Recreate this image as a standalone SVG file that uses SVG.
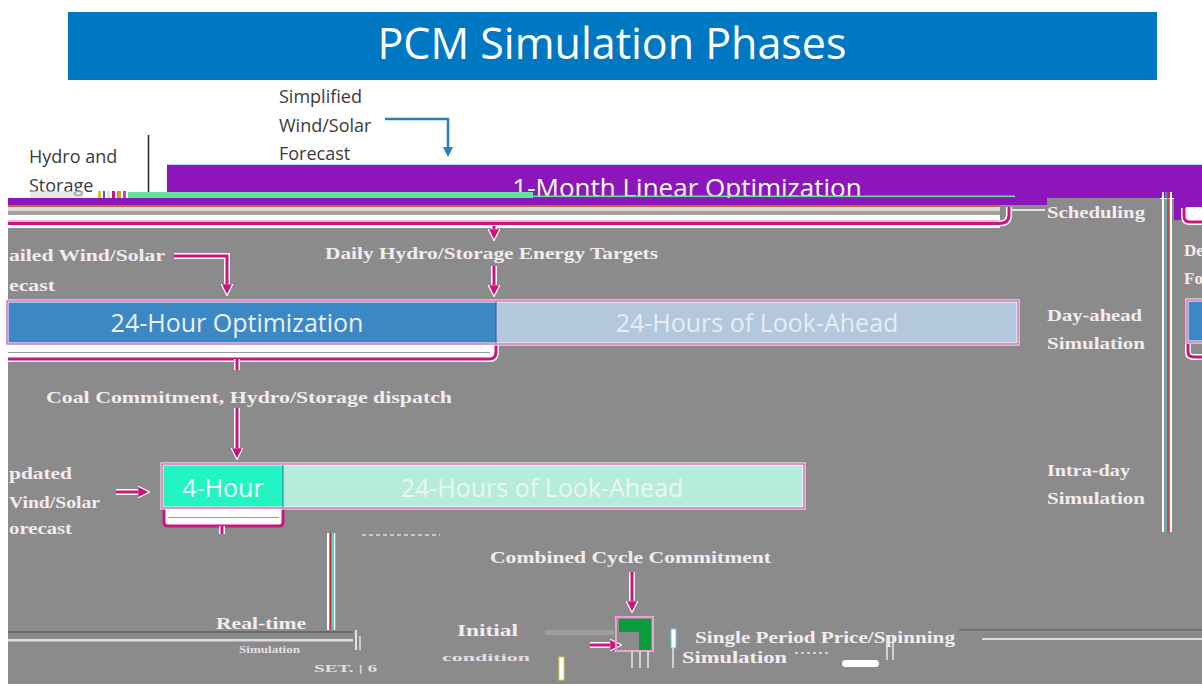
<svg xmlns="http://www.w3.org/2000/svg" width="1202" height="687" viewBox="0 0 1202 687">
<defs>
<style>
.g{font-family:"Liberation Serif",serif;font-weight:bold;fill:#f3ebf0;font-size:17px}
.gs{font-family:"Liberation Serif",serif;font-weight:bold;fill:#e6dde4;font-size:10px}
.s{font-family:"Open Sans","Liberation Sans",sans-serif}
.dk{fill:#3a3a3a;font-size:18px}
.mag{fill:none;stroke:#c8167f;stroke-width:3}
.wo{fill:none;stroke:#ffffff;stroke-width:6}
.bx{font-size:25px;text-anchor:middle}
</style>
<marker id="am" viewBox="0 0 10 10" refX="7" refY="5" markerWidth="4" markerHeight="4" orient="auto" markerUnits="strokeWidth">
<path d="M0,0 L10,5 L0,10 z" fill="#c8167f" stroke="#ffffff" stroke-width="1"/>
</marker>
<marker id="ab" viewBox="0 0 10 10" refX="7" refY="5" markerWidth="4" markerHeight="4" orient="auto" markerUnits="strokeWidth">
<path d="M0,0 L10,5 L0,10 z" fill="#2a7fc0"/>
</marker>
</defs>
<rect x="0" y="0" width="1202" height="687" fill="#ffffff"/>
<g id="title">
<rect x="68" y="12" width="1089" height="68" fill="#0077c1"/>
<text x="612" y="59" class="s" font-size="43" fill="#ffffff" text-anchor="middle">PCM Simulation Phases</text>
</g>
<g id="top-labels">
<text class="s dk" x="279" y="103">Simplified</text>
<text class="s dk" x="279" y="132">Wind/Solar</text>
<text class="s dk" x="279" y="160">Forecast</text>
<text class="s dk" x="29" y="163">Hydro and</text>
<text class="s dk" x="29" y="192">Storage</text>
<line x1="148.5" y1="135" x2="148.5" y2="192" stroke="#222" stroke-width="1.5"/>
</g>
<rect id="background" x="8" y="199" width="1194" height="485" fill="#8b8b8b"/>
<rect x="1045" y="192" width="115" height="30" fill="#8b8b8b"/>
<g id="month">
<rect x="167" y="164" width="1035" height="34" fill="#8c16b9"/>
<line x1="167" y1="164.5" x2="1202" y2="164.5" stroke="#b8d8f0" stroke-width="1"/>
<rect x="1174" y="198" width="28" height="22" fill="#8c16b9"/>
<rect x="1010" y="192" width="35" height="13" fill="#8c16b9"/>
<text x="687" y="197" class="s" font-size="26" fill="#ffffff" text-anchor="middle">1-Month Linear Optimization</text>
<rect x="533" y="195.5" width="482" height="1.6" fill="#5fe0a0"/>
<rect x="128" y="192" width="405" height="6" fill="#62e3a0"/>
<rect x="30" y="191" width="53" height="7" fill="#d8d8d8" opacity="0.6"/>
<rect x="98" y="191" width="3" height="7" fill="#d8c030"/>
<rect x="103" y="191" width="2" height="7" fill="#4060d0"/>
<rect x="107" y="191" width="3" height="7" fill="#e0e0e0"/>
<rect x="112" y="191" width="3" height="7" fill="#c8167f"/>
<rect x="117" y="191" width="4" height="7" fill="#d89a30"/>
<rect x="123" y="191" width="3" height="7" fill="#a050c0"/>
<rect x="8" y="198" width="1039" height="7" fill="#8c16b9"/>
</g>
<g id="band">
<rect x="8" y="205" width="992" height="2" fill="#c86a30"/>
<rect x="8" y="207" width="992" height="4" fill="#d9d9d9"/>
<rect x="8" y="211" width="992" height="4" fill="#a0a0a0"/>
<rect x="8" y="215" width="992" height="5" fill="#ffffff"/>
<rect x="8" y="220" width="992" height="2" fill="#f0b8d8"/>
<rect x="8" y="222" width="992" height="3" fill="#c8167f"/>
<rect x="8" y="225" width="992" height="3" fill="#ffffff"/>
</g>
<g id="connectors">
<path d="M385,119 H448 V154" fill="none" stroke="#2a7fc0" stroke-width="2.5" marker-end="url(#ab)"/>
<path class="wo" d="M999,223.5 Q1009,223.5 1009,215 V207"/>
<path class="mag" d="M999,223.5 Q1009,223.5 1009,215 V207"/>
<line x1="1012" y1="210" x2="1045" y2="210" stroke="#ffffff" stroke-width="1.5"/>
<path class="wo" d="M174,256 H227 V290"/>
<path class="mag" d="M174,256 H227 V292" marker-end="url(#am)"/>
<path class="wo" d="M494,226 V236"/>
<path class="mag" d="M494,226 V237" marker-end="url(#am)"/>
<path class="wo" d="M494,266 V291"/>
<path class="mag" d="M494,266 V293" marker-end="url(#am)"/>
<rect x="8" y="344" width="488" height="12" fill="#ffffff"/>
<line x1="8" y1="352.5" x2="490" y2="352.5" stroke="#9a9a9a" stroke-width="1"/>
<path class="wo" d="M8,359 H489 Q496,359 496,352 V344"/>
<path class="mag" d="M8,359 H489 Q496,359 496,352 V344"/>
<path class="wo" d="M237,359 V370"/>
<path class="mag" d="M237,359 V370"/>
<path class="wo" d="M237,408 V454"/>
<path class="mag" d="M237,408 V456" marker-end="url(#am)"/>
<path class="wo" d="M116,492 H144"/>
<path class="mag" d="M116,492 H146" marker-end="url(#am)"/>
<rect x="164" y="508" width="119" height="18" fill="#ffffff"/>
<line x1="168" y1="517.5" x2="279" y2="517.5" stroke="#9a9a9a" stroke-width="1"/>
<path class="mag" d="M164,508 V522 Q164,526 168,526 H279 Q283,526 283,522 V508"/>
<path class="wo" d="M222,526 V534"/>
<path class="mag" d="M222,526 V534"/>
<path class="wo" d="M632,572 V607"/>
<path class="mag" d="M632,572 V609" marker-end="url(#am)"/>
<path class="wo" d="M590,645 H616"/>
<path class="mag" d="M590,645 H618" marker-end="url(#am)"/>
</g>
<g id="day-ahead">
<rect x="8" y="302" width="488" height="41" fill="#3b88c4"/>
<rect x="496" y="302" width="521" height="41" fill="#b3c8dc"/>
<rect x="7" y="301" width="1011" height="43" fill="none" stroke="#ffffff" stroke-width="3"/>
<rect x="7" y="301" width="1011" height="43" fill="none" stroke="#d2489e" stroke-width="1.2"/>
<line x1="496" y1="302" x2="496" y2="343" stroke="#3050a0" stroke-width="1"/>
<text x="237" y="332" class="s bx" fill="#eaf2fa">24-Hour Optimization</text>
<text x="757" y="332" class="s bx" fill="#e6edf4">24-Hours of Look-Ahead</text>
</g>
<g id="intra-day">
<rect x="163" y="465" width="120" height="42" fill="#22f4c2"/>
<rect x="283" y="465" width="520" height="42" fill="#b6ecdc"/>
<rect x="162" y="464" width="642" height="44" fill="none" stroke="#ffffff" stroke-width="3"/>
<rect x="162" y="464" width="642" height="44" fill="none" stroke="#d2489e" stroke-width="1.2"/>
<line x1="283" y1="465" x2="283" y2="507" stroke="#3a6aa0" stroke-width="1"/>
<text x="223" y="497" class="s bx" fill="#f0fffa">4-Hour</text>
<text x="542" y="497" class="s bx" fill="#eaf7f2">24-Hours of Look-Ahead</text>
</g>
<g id="right-side">
<line x1="1163" y1="192" x2="1163" y2="532" stroke="#ffffff" stroke-width="2"/>
<line x1="1166" y1="192" x2="1166" y2="532" stroke="#40e0e0" stroke-width="1"/>
<line x1="1168" y1="192" x2="1168" y2="532" stroke="#e03030" stroke-width="1.5"/>
<line x1="1171" y1="192" x2="1171" y2="532" stroke="#ffffff" stroke-width="2"/>
<rect x="1186" y="207" width="16" height="13" fill="#ffffff"/>
<path class="wo" d="M1202,222 H1190 Q1184,222 1184,216 V208"/>
<path class="mag" d="M1202,222 H1190 Q1184,222 1184,216 V208"/>
<text class="g" x="1184" y="256">De</text>
<text class="g" x="1184" y="284">Fo</text>
<rect x="1187" y="300" width="20" height="42" fill="#3b88c4" stroke="#ffffff" stroke-width="3"/>
<rect x="1187" y="300" width="20" height="42" fill="none" stroke="#d2489e" stroke-width="1.2"/>
<path class="wo" d="M1188,344 V352 Q1188,357 1194,357 H1202"/>
<path class="mag" d="M1188,344 V352 Q1188,357 1194,357 H1202"/>
</g>
<g id="labels">
<text class="g" x="9" y="261" textLength="156" lengthAdjust="spacingAndGlyphs">ailed Wind/Solar</text>
<text class="g" x="9" y="291" textLength="46" lengthAdjust="spacingAndGlyphs">ecast</text>
<text class="g" x="325" y="259" textLength="333" lengthAdjust="spacingAndGlyphs">Daily Hydro/Storage Energy Targets</text>
<text class="g" x="46" y="403" textLength="406" lengthAdjust="spacingAndGlyphs">Coal Commitment, Hydro/Storage dispatch</text>
<text class="g" x="9" y="479" textLength="63" lengthAdjust="spacingAndGlyphs">pdated</text>
<text class="g" x="9" y="508" textLength="91" lengthAdjust="spacingAndGlyphs">Vind/Solar</text>
<text class="g" x="9" y="534" textLength="63" lengthAdjust="spacingAndGlyphs">orecast</text>
<text class="g" x="1047" y="218" textLength="98" lengthAdjust="spacingAndGlyphs">Scheduling</text>
<text class="g" x="1047" y="321" textLength="95" lengthAdjust="spacingAndGlyphs">Day-ahead</text>
<text class="g" x="1047" y="349" textLength="98" lengthAdjust="spacingAndGlyphs">Simulation</text>
<text class="g" x="1047" y="476" textLength="83" lengthAdjust="spacingAndGlyphs">Intra-day</text>
<text class="g" x="1047" y="504" textLength="98" lengthAdjust="spacingAndGlyphs">Simulation</text>
<text class="g" x="490" y="563" textLength="281" lengthAdjust="spacingAndGlyphs">Combined Cycle Commitment</text>
</g>
<g id="real-time">
<line x1="328" y1="533" x2="328" y2="630" stroke="#ffffff" stroke-width="2"/>
<line x1="330.5" y1="533" x2="330.5" y2="630" stroke="#e03030" stroke-width="1"/>
<line x1="332.5" y1="533" x2="332.5" y2="630" stroke="#40e0e0" stroke-width="1"/>
<line x1="334.5" y1="533" x2="334.5" y2="630" stroke="#ffffff" stroke-width="1.5"/>
<line x1="362" y1="535" x2="440" y2="535" stroke="#dcdcdc" stroke-width="1.5" stroke-dasharray="4 3"/>
<rect x="8" y="631" width="345" height="2" fill="#6a6a6a"/>
<rect x="8" y="639" width="345" height="2.5" fill="#dcdcdc"/>
<line x1="356" y1="630" x2="356" y2="650" stroke="#ffffff" stroke-width="1.5"/>
<line x1="360" y1="636" x2="360" y2="650" stroke="#e0e0e0" stroke-width="1.5"/>
<text class="g" x="216" y="629" textLength="90" lengthAdjust="spacingAndGlyphs">Real-time</text>
<text class="gs" x="239" y="653" textLength="61" lengthAdjust="spacingAndGlyphs">Simulation</text>
<text class="gs" x="314" y="672" textLength="63" lengthAdjust="spacingAndGlyphs">SET. | 6</text>
</g>
<g id="single-period">
<rect x="545" y="630" width="69" height="5" fill="#9e9e9e"/>
<text class="g" x="457" y="636" textLength="61" lengthAdjust="spacingAndGlyphs">Initial</text>
<text class="gs" x="442" y="661" font-size="11" textLength="88" lengthAdjust="spacingAndGlyphs">condition</text>
<rect x="559" y="657" width="5" height="23" fill="#ffffff" stroke="#e0d040" stroke-width="1"/>
<path d="M619,619 H651 V650 H639 V632 H619 Z" fill="#0c9a3e"/>
<rect x="616" y="617" width="37" height="34" fill="none" stroke="#ffffff" stroke-width="2"/>
<rect x="616" y="617" width="37" height="34" fill="none" stroke="#d2489e" stroke-width="1"/>
<line x1="632" y1="651" x2="632" y2="668" stroke="#e8e8e8" stroke-width="1.5"/>
<line x1="640" y1="651" x2="640" y2="668" stroke="#e8e8e8" stroke-width="1.5"/>
<line x1="648" y1="651" x2="648" y2="668" stroke="#e8e8e8" stroke-width="1.5"/>
<rect x="671" y="629" width="5" height="19" fill="#ffffff" stroke="#60d0e0" stroke-width="1"/>
<line x1="673" y1="648" x2="673" y2="668" stroke="#e8e8e8" stroke-width="1.5"/>
<text class="g" x="695" y="643" textLength="260" lengthAdjust="spacingAndGlyphs">Single Period Price/Spinning</text>
<text class="g" x="682" y="663" textLength="105" lengthAdjust="spacingAndGlyphs">Simulation</text>
<line x1="795" y1="653" x2="830" y2="653" stroke="#e8e8e8" stroke-width="1.5" stroke-dasharray="3 3"/>
<rect x="842" y="660" width="37" height="7" rx="3.5" fill="#ffffff"/>
<line x1="887" y1="635" x2="887" y2="660" stroke="#e8e8e8" stroke-width="1.5"/>
<line x1="893" y1="635" x2="893" y2="660" stroke="#e8e8e8" stroke-width="1.5"/>
<rect x="959" y="629" width="243" height="1.5" fill="#6a6a6a"/>
<rect x="982" y="638" width="220" height="2" fill="#dcdcdc"/>
</g>
</svg>
